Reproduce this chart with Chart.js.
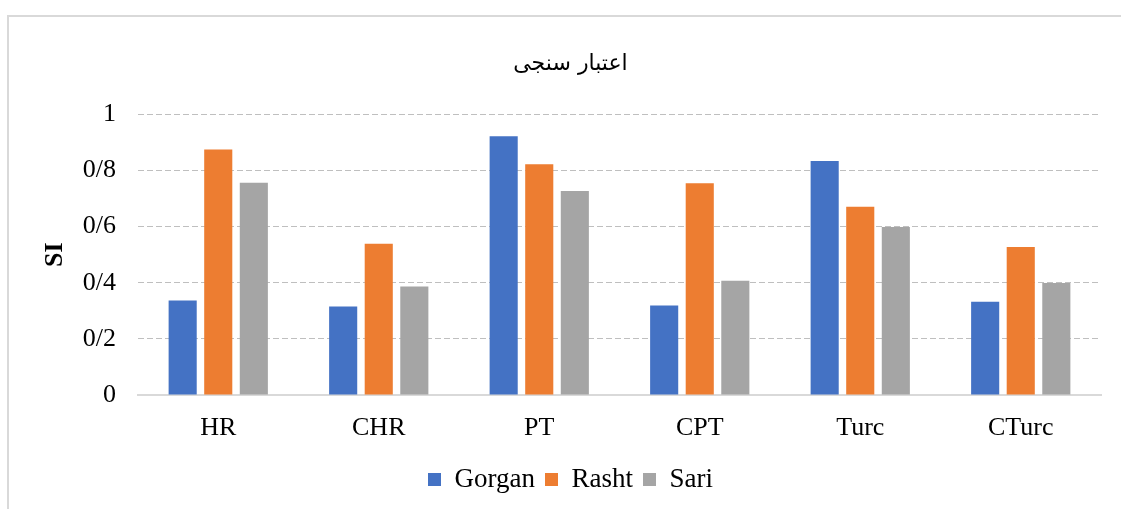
<!DOCTYPE html>
<html lang="fa">
<head>
  <meta charset="UTF-8"/>
  <title>SI chart</title>
  <script src="https://cdn.jsdelivr.net/npm/chart.js"></script>
  <style>
    html, body { margin: 0; padding: 0; background: #fff; overflow: hidden; }
    .wrap { position: relative; width: 1121px; height: 509px; }
    .frame { position: absolute; left: 7px; top: 15px; right: -10px; bottom: -10px;
             border-left: 2px solid #d9d9d9; border-top: 2px solid #d9d9d9; pointer-events: none; }
  </style>
</head>
<body>
  <div class="wrap">
    <canvas id="siChart" width="1121" height="509"></canvas>
    <div class="frame"></div>
  </div>
  <script>
    // values
    const categories = ["HR", "CHR", "PT", "CPT", "Turc", "CTurc"];
    const gorgan = [0.337, 0.315, 0.922, 0.319, 0.834, 0.332];
    const rasht  = [0.875, 0.539, 0.822, 0.755, 0.671, 0.527];
    const sari   = [0.756, 0.387, 0.727, 0.407, 0.599, 0.399];
    const seriesNames = ["Gorgan", "Rasht", "Sari"];
    const chartTitle = "اعتبار سنجی";
    const yTitle = "SI";

    const serif = "'Liberation Serif', 'DejaVu Serif', serif";

    new Chart(document.getElementById('siChart').getContext('2d'), {
      type: 'bar',
      data: {
        labels: categories,
        datasets: [
          { label: seriesNames[0], data: gorgan, backgroundColor: "#4472c4" },
          { label: seriesNames[1], data: rasht,  backgroundColor: "#ed7d31" },
          { label: seriesNames[2], data: sari,   backgroundColor: "#a5a5a5" }
        ]
      },
      options: {
        responsive: false,
        animation: false,
        categoryPercentage: 0.665,
        barPercentage: 0.79,
        layout: { padding: { left: 40, right: 20, top: 51, bottom: 6 } },
        plugins: {
          tooltip: { enabled: false },
          title: {
            display: true,
            text: chartTitle,
            color: "#000",
            font: { family: "'DejaVu Sans', sans-serif", size: 22, weight: 'normal' },
            padding: { top: 0, bottom: 37 }
          },
          legend: {
            position: 'bottom',
            labels: {
              color: "#000",
              boxWidth: 13,
              boxHeight: 13,
              padding: 10,
              font: { family: serif, size: 27 }
            }
          }
        },
        scales: {
          x: {
            grid: { display: false, drawTicks: false },
            border: { display: true, color: "#d9d9d9", width: 2 },
            ticks: { color: "#000", padding: 18, font: { family: serif, size: 26 } },
            afterFit: s => { s.height = 61; }
          },
          y: {
            min: 0,
            max: 1,
            ticks: {
              stepSize: 0.2,
              color: "#000",
              padding: 22,
              font: { family: serif, size: 26 },
              callback: v => (v === 0 || v === 1) ? String(v) : "0/" + Math.round(v * 10)
            },
            grid: {
              drawTicks: false,
              color: c => c.tick.value === 0 ? "rgba(0,0,0,0)" : "#bfbfbf",
              lineWidth: 1
            },
            border: { display: false, dash: [6, 3] },
            title: {
              display: true,
              text: yTitle,
              color: "#000",
              padding: 0,
              font: { family: serif, size: 26, weight: 'bold' }
            },
            afterFit: s => { s.width = 98; }
          }
        }
      }
    });
  </script>
</body>
</html>
